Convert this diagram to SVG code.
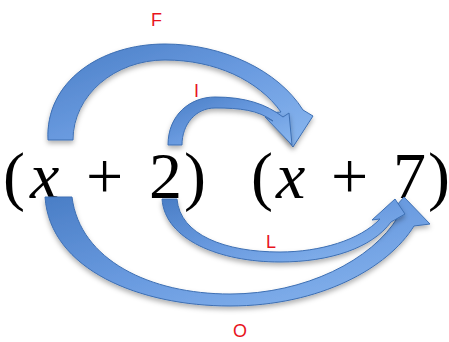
<svg xmlns="http://www.w3.org/2000/svg" width="449" height="342" viewBox="0 0 449 342">
<style>
.math{font-family:"Liberation Serif","Times New Roman",serif;font-size:66px;fill:#000}
.it{font-style:italic}
.lbl{font-family:"Liberation Sans",Arial,sans-serif;font-size:18px;fill:#e8141c}
.arrow{fill:url(#g);stroke:#3d6fb3;stroke-width:1;stroke-linejoin:round;filter:url(#sh)}
</style>
<defs>
<linearGradient id="g" x1="0" y1="0" x2="1" y2="1">
<stop offset="0" stop-color="#4a7ec6"/>
<stop offset="0.5" stop-color="#6a9be0"/>
<stop offset="1" stop-color="#8ab7ef"/>
</linearGradient>
<filter id="sh" x="-10%" y="-10%" width="120%" height="130%">
<feDropShadow dx="0" dy="3" stdDeviation="2.5" flood-color="#000" flood-opacity="0.3"/>
</filter>
</defs>
<g id="expr-left">
<text class="math" y="198"><tspan x="3">(</tspan><tspan class="it" x="30">x</tspan><tspan x="86">+</tspan><tspan x="149">2</tspan><tspan x="184">)</tspan></text>
</g>
<g id="expr-right">
<text class="math" y="198"><tspan x="251">(</tspan><tspan class="it" x="276">x</tspan><tspan x="331">+</tspan><tspan x="393">7</tspan><tspan x="428">)</tspan></text>
</g>
<g id="connectors">
<g id="arrow-F">
<path class="arrow" d="M48,140 C45,82 100,44 165,44 C222,44 278,70 303,110 L313,116 L293,147 L266,113 L281,112 C258,80 215,60 165,60 C115,60 73,95 73,140 Z"/>
</g>
<g id="arrow-I">
<path class="arrow" d="M168,145 C168,115 190,97 215,97 C245,97 266,104 283,117 L289,113 L292,145 L265,117 L273,121 C258,110 240,108 215,108 C196,108 182,124 182,145 Z"/>
</g>
<g id="arrow-O">
<path class="arrow" d="M45,197 C50,270 140,306 230,306 C320,306 388,268 414,226 L430,224 L404,197 L390,213 L398,217 C372,260 305,294 230,294 C150,294 80,260 72,197 Z"/>
</g>
<g id="arrow-L">
<path class="arrow" d="M162,199 C165,240 220,262 280,262 C330,262 372,248 391,222 L405,214 L395,199 L372,220 L380,219 C360,240 320,252 280,252 C225,252 180,235 177,199 Z"/>
</g>
</g>
<g id="labels">
<text class="lbl" x="151" y="26">F</text>
<text class="lbl" x="194" y="97">I</text>
<text class="lbl" x="266" y="248">L</text>
<text class="lbl" x="233" y="337">O</text>
</g>
</svg>
